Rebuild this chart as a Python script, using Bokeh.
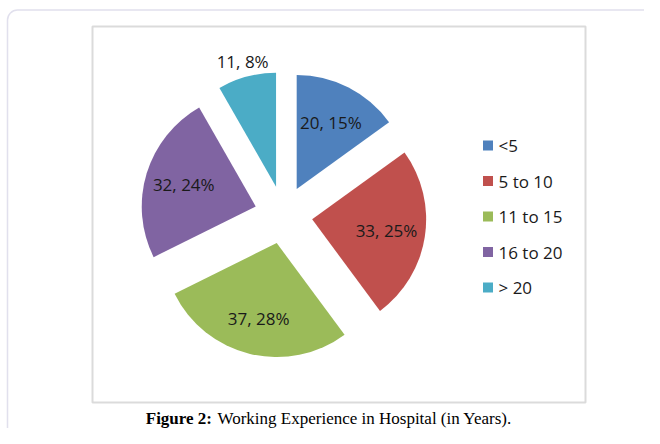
import math
from bokeh.plotting import figure
from bokeh.models import Range1d, BoxAnnotation, ColumnDataSource
from bokeh.core.properties import value
from bokeh.embed import file_html
from bokeh.resources import INLINE

# ---- data ----
categories = ["<5", "5 to 10", "11 to 15", "16 to 20", "> 20"]
counts = [20, 33, 37, 32, 11]
percents = ["15%", "25%", "28%", "24%", "8%"]
colors = ["#4F81BD", "#C0504D", "#9BBB59", "#8064A2", "#4BACC6"]
caption_bold = "Figure 2:"
caption_rest = "Working Experience in Hospital (in Years)."

W, H = 644, 428
p = figure(width=W, height=H, output_backend="svg", toolbar_location=None,
           x_range=Range1d(0, W), y_range=Range1d(0, H), min_border=0)
p.axis.visible = False
p.grid.visible = False
p.outline_line_color = None
p.background_fill_color = "white"

def sy(py):  # screen y -> data y
    return H - py

def sx(px):
    return px

# outer frame (rounded corner)
p.add_layout(BoxAnnotation(left=sx(7), right=1000, top=sy(9.5), bottom=-100,
                           fill_alpha=0, line_color="#9a97c4", line_width=1.5,
                           border_radius=10))
# inner chart box
p.add_layout(BoxAnnotation(left=sx(92), right=sx(585), top=sy(26), bottom=sy(402),
                           fill_alpha=0, line_color="#878787", line_width=2))

# ---- pie ----
cx, cy = sx(283), sy(214.4)
r = 114
explode = 29
total = sum(counts)
starts, ends, xs, ys, lx, ly, labels = [], [], [], [], [], [], []
cum = 0
label_factor = [0.66, 0.66, 0.68, 0.66, 1.14]
for i, c in enumerate(counts):
    a0 = cum / total * 2 * math.pi
    cum += c
    a1 = cum / total * 2 * math.pi
    mid = (a0 + a1) / 2
    starts.append(math.pi / 2 - a0)
    ends.append(math.pi / 2 - a1)
    ex = cx + explode * math.sin(mid)
    ey = cy + explode * math.cos(mid)
    xs.append(ex)
    ys.append(ey)
    lx.append(ex + label_factor[i] * r * math.sin(mid))
    ly.append(ey + label_factor[i] * r * math.cos(mid))
    labels.append(f"{c}, {percents[i]}")

src = ColumnDataSource(dict(x=xs, y=ys, start=starts, end=ends, color=colors,
                            lx=lx, ly=ly, label=labels))
p.wedge(x="x", y="y", radius=r, start_angle="start", end_angle="end",
        direction="clock", fill_color="color", line_color=None, source=src)
p.text(x="lx", y="ly", text="label", source=src, text_font=value("Open Sans"),
       text_font_size="17px", text_align="center", text_baseline="middle",
       text_color="#1a1a1a")

# ---- legend ----
leg_y = [sy(145 + 35.5 * i) for i in range(len(categories))]
leg_sq_x = [sx(487.5)] * len(categories)
leg_tx = [sx(498)] * len(categories)
p.scatter(x=leg_sq_x, y=leg_y, marker="square", size=10, fill_color=colors,
          line_color=None)
p.text(x=leg_tx, y=leg_y, text=categories, text_font=value("Open Sans"),
       text_font_size="17px", text_align="left", text_baseline="middle",
       text_color="#1a1a1a")

# ---- caption ----
p.text(x=[sx(211.5)], y=[sy(418)], text=[caption_bold],
       text_font=value("Liberation Serif"), text_font_size="17px",
       text_font_style="bold", text_align="right", text_baseline="middle",
       text_color="black")
p.text(x=[sx(217)], y=[sy(418)], text=[caption_rest],
       text_font=value("Liberation Serif"), text_font_size="17px",
       text_align="left", text_baseline="middle", text_color="black")

open("out.html", "w").write(file_html(p, INLINE))
